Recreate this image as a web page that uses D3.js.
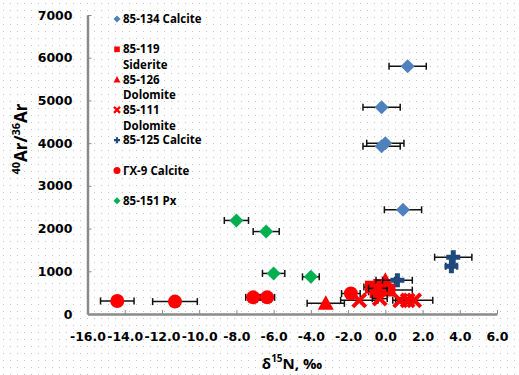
<!DOCTYPE html>
<html>
<head>
<meta charset="utf-8">
<script src="https://cdn.jsdelivr.net/npm/d3@7"></script>
<style>
  body { margin: 0; background: #fff; }
  svg { display: block; }
  .tick text { font-family: "DejaVu Sans", sans-serif; font-weight: bold; font-size: 12.5px; fill: #000; }
  .legend text { font-family: "Open Sans", sans-serif; font-weight: bold; font-size: 11.5px; fill: #000; }
</style>
</head>
<body>
<div id="chart"></div>
<script>
var w = 519, h = 375;

// tick values
var xTicks = [-16, -14, -12, -10, -8, -6, -4, -2, 0, 2, 4, 6];
var yTicks = [0, 1000, 2000, 3000, 4000, 5000, 6000, 7000];

// series (d15N, 40Ar/36Ar, +/- error on d15N)
var c134X = [1.2, -0.2, 0.0, -0.2, 0.95];
var c134Y = [5800, 4840, 4000, 3930, 2440];
var c134E = [1.0, 1.0, 1.0, 1.0, 1.0];

var s119X = [-0.75, -0.3, -0.5, 0.2];
var s119Y = [630, 670, 520, 560];
var s119E = [0.4, 0.4, 0.4, 1.25];

var d126X = [-3.2, 0.0, -0.4];
var d126Y = [250, 790, 600];
var d126E = [1.0, 0.5, 0.5];

var d111X = [-1.4, -0.3, 0.8, 1.2, 1.55];
var d111Y = [320, 360, 320, 320, 320];
var d111E = [1.0, 0.4, 0.4, 0.4, 1.0];

var c125X = [3.65, 3.55, 0.65];
var c125Y = [1330, 1120, 790];
var c125E = [1.0, 0.3, 0.8];

var gx9X = [-14.4, -11.3, -7.1, -6.35, -1.85];
var gx9Y = [305, 290, 390, 390, 480];
var gx9E = [0.9, 1.2, 0.4, 0.4, 0.5];

var px151X = [-8.0, -6.4, -6.0, -4.0];
var px151Y = [2190, 1930, 950, 870];
var px151E = [0.65, 0.7, 0.6, 0.45];

var seriesNames = [["85-134 Calcite"], ["85-119", "Siderite"], ["85-126", "Dolomite"],
                   ["85-111", "Dolomite"], ["85-125 Calcite"], ["ГХ-9 Calcite"], ["85-151 Px"]];

function pack(xs, ys, es) {
    return xs.map(function(x, i) { return {x: x, y: ys[i], e: es[i]}; });
}

var series = [
    {name: seriesNames[0], shape: "diamond", color: "#4f81bd", pts: pack(c134X, c134Y, c134E)},
    {name: seriesNames[1], shape: "square", color: "#ff0000", pts: pack(s119X, s119Y, s119E)},
    {name: seriesNames[2], shape: "triangle", color: "#ff0000", pts: pack(d126X, d126Y, d126E)},
    {name: seriesNames[3], shape: "x", color: "#ff0000", pts: pack(d111X, d111Y, d111E)},
    {name: seriesNames[4], shape: "plus", color: "#1f497d", pts: pack(c125X, c125Y, c125E)},
    {name: seriesNames[5], shape: "circle", color: "#ff0000", pts: pack(gx9X, gx9Y, gx9E)},
    {name: seriesNames[6], shape: "diamond", color: "#00b050", pts: pack(px151X, px151Y, px151E)}
];

var svg = d3.select("#chart").append("svg")
    .attr("width", w)
    .attr("height", h);

// dotted background like the original
var pat = svg.append("defs").append("pattern")
    .attr("id", "dots")
    .attr("width", 7).attr("height", 7)
    .attr("patternUnits", "userSpaceOnUse");
pat.append("rect").attr("x", 3).attr("y", 3).attr("width", 1).attr("height", 1).attr("fill", "#c4c4c4");
svg.append("rect").attr("width", w).attr("height", h).attr("fill", "url(#dots)");

var x = d3.scaleLinear().domain([-16, 6]).range([87.5, 497]);
var y = d3.scaleLinear().domain([0, 7000]).range([314, 15]);

var xAxis = d3.axisBottom(x).tickValues(xTicks).tickFormat(d3.format(".1f"))
    .tickSizeInner(-4).tickSizeOuter(0).tickPadding(18);
var yAxis = d3.axisLeft(y).tickValues(yTicks).tickFormat(d3.format("d"))
    .tickSizeInner(-4).tickSizeOuter(0).tickPadding(15);

var gx = svg.append("g")
    .attr("transform", "translate(0," + y(0) + ")")
    .call(xAxis);
var gy = svg.append("g")
    .attr("transform", "translate(" + x(-16) + ",0)")
    .call(yAxis);

[gx, gy].forEach(function(g) {
    g.select(".domain").attr("stroke", "#8a8a8a").attr("stroke-width", 2.5);
    g.selectAll(".tick line").attr("stroke", "#8a8a8a").attr("stroke-width", 1);
    g.selectAll(".tick text").text(function(d) { return d3.select(this).text().replace("−", "-"); });
});

// marker shapes
function shapePath(shape, s) {
    if (shape === "diamond") return "M0," + (-s) + "L" + s + ",0L0," + s + "L" + (-s) + ",0Z";
    if (shape === "square") { var a = s * 0.8; return "M" + (-a) + "," + (-a) + "H" + a + "V" + a + "H" + (-a) + "Z"; }
    if (shape === "triangle") return "M0," + (-s) + "L" + s + "," + (s * 0.8) + "L" + (-s) + "," + (s * 0.8) + "Z";
    if (shape === "circle") return d3.symbol().type(d3.symbolCircle).size(Math.PI * s * s)();
    if (shape === "x") return "M" + (-s) + "," + (-s) + "L" + s + "," + s + "M" + s + "," + (-s) + "L" + (-s) + "," + s;
    if (shape === "plus") return "M0," + (-s) + "V" + s + "M" + (-s) + ",0H" + s;
}
function styleMarker(sel, d, thick) {
    if (d.shape === "x" || d.shape === "plus") {
        sel.attr("fill", "none").attr("stroke", d.color).attr("stroke-width", thick);
    } else {
        sel.attr("fill", d.color);
    }
}

var markSize = {diamond: 7, square: 8, triangle: 8, circle: 7, x: 6.5, plus: 7};
var plot = svg.append("g");

series.forEach(function(s) {
    var g = plot.append("g").attr("class", "series");

    // horizontal error bars
    var eb = g.selectAll(".err").data(s.pts).enter().append("g").attr("class", "err");
    eb.append("line")
        .attr("x1", function(d) { return x(d.x - d.e); })
        .attr("x2", function(d) { return x(d.x + d.e); })
        .attr("y1", function(d) { return y(d.y); })
        .attr("y2", function(d) { return y(d.y); })
        .attr("stroke", "#111").attr("stroke-width", 1.5);
    [-1, 1].forEach(function(k) {
        eb.append("line")
            .attr("x1", function(d) { return x(d.x + k * d.e); })
            .attr("x2", function(d) { return x(d.x + k * d.e); })
            .attr("y1", function(d) { return y(d.y) - 3.5; })
            .attr("y2", function(d) { return y(d.y) + 3.5; })
            .attr("stroke", "#111").attr("stroke-width", 1.5);
    });

    g.selectAll(".pt").data(s.pts).enter().append("path")
        .attr("class", "pt")
        .attr("transform", function(d) { return "translate(" + x(d.x) + "," + y(d.y) + ")"; })
        .attr("d", shapePath(s.shape, markSize[s.shape]))
        .each(function() { styleMarker(d3.select(this), s, s.shape === "plus" ? 5 : 4); });
});

// legend inside the plot
var legend = svg.selectAll(".legend")
    .data(series)
    .enter()
    .append("g")
    .attr("class", "legend")
    .attr("transform", function(d, i) { return "translate(117," + (19 + i * 30.3) + ")"; });

legend.append("path")
    .attr("d", function(d) { return shapePath(d.shape, d.shape === "x" || d.shape === "plus" ? 3 : 3.5); })
    .each(function(d) { styleMarker(d3.select(this), d, 2.2); });

legend.each(function(d) {
    var t = d3.select(this).append("text").attr("x", 6).attr("y", 4);
    d.name.forEach(function(line, j) {
        t.append("tspan").attr("x", 6).attr("dy", j === 0 ? 0 : 15.7).text(line);
    });
});

// axis titles
var yt = svg.append("text")
    .attr("transform", "translate(27,139) rotate(-90)")
    .attr("text-anchor", "middle")
    .style("font-family", "'Open Sans', sans-serif")
    .style("font-weight", "bold")
    .style("font-size", "17px");
yt.append("tspan").attr("baseline-shift", "super").style("font-size", "11px").text("40");
yt.append("tspan").text("Ar/");
yt.append("tspan").attr("baseline-shift", "super").style("font-size", "11px").text("36");
yt.append("tspan").text("Ar");

var xt = svg.append("text")
    .attr("x", 292)
    .attr("y", 369)
    .attr("text-anchor", "middle")
    .style("font-family", "'Open Sans', sans-serif")
    .style("font-weight", "bold")
    .style("font-size", "15px");
xt.append("tspan").text("δ");
xt.append("tspan").attr("baseline-shift", "super").style("font-size", "10px").text("15");
xt.append("tspan").text("N, ‰");
</script>
</body>
</html>
